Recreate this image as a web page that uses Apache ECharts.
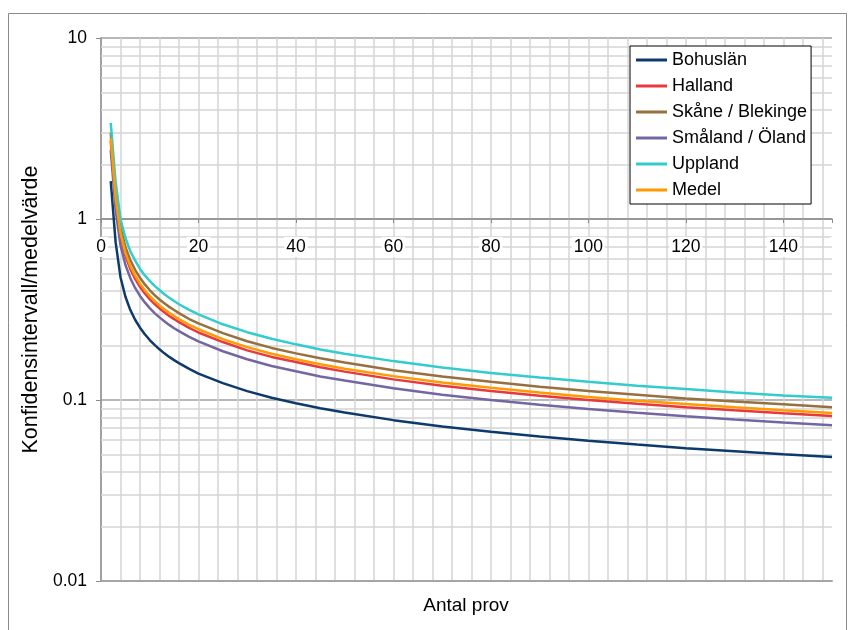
<!DOCTYPE html>
<html>
<head>
<meta charset="utf-8">
<script src="https://cdn.jsdelivr.net/npm/echarts@6/dist/echarts.min.js"></script>
<style>
html, body { margin: 0; padding: 0; background: #fff; }
#chart { width: 848px; height: 630px; }
</style>
</head>
<body>
<div id="chart"></div>
<script>
// antal prov (x)
var antalProv = [2, 3, 4, 5, 6, 7, 8, 9, 10, 11, 12, 13, 14, 15, 16, 18, 20, 25, 30, 35, 40, 45, 50, 60, 70, 80, 90, 100, 110, 120, 130, 140, 150];

var bohuslan = [1.62, 0.745, 0.477, 0.373, 0.315, 0.2775, 0.251, 0.231, 0.2145, 0.2015, 0.1905, 0.181, 0.173, 0.166, 0.160, 0.149, 0.140, 0.124, 0.112, 0.103, 0.096, 0.090, 0.0852, 0.0774, 0.0714, 0.0668, 0.0628, 0.0595, 0.0567, 0.0542, 0.0521, 0.0501, 0.0484];
var halland = [2.70, 1.25, 0.80, 0.627, 0.530, 0.467, 0.422, 0.388, 0.361, 0.339, 0.321, 0.305, 0.291, 0.280, 0.269, 0.251, 0.236, 0.209, 0.188, 0.173, 0.162, 0.1515, 0.1435, 0.130, 0.120, 0.112, 0.1057, 0.100, 0.0954, 0.0913, 0.0877, 0.0844, 0.0815];
var skane = [3.00, 1.41, 0.90, 0.70, 0.594, 0.524, 0.473, 0.435, 0.405, 0.380, 0.359, 0.342, 0.327, 0.314, 0.302, 0.281, 0.265, 0.234, 0.211, 0.194, 0.181, 0.170, 0.161, 0.146, 0.135, 0.126, 0.1185, 0.112, 0.107, 0.102, 0.098, 0.0946, 0.0913];
var smaland = [2.40, 1.12, 0.716, 0.559, 0.4725, 0.416, 0.376, 0.346, 0.322, 0.302, 0.286, 0.272, 0.260, 0.249, 0.240, 0.224, 0.211, 0.186, 0.168, 0.154, 0.144, 0.135, 0.128, 0.116, 0.107, 0.100, 0.0942, 0.0893, 0.0851, 0.0814, 0.0781, 0.0752, 0.0726];
var uppland = [3.40, 1.60, 1.00, 0.79, 0.665, 0.59, 0.53, 0.488, 0.455, 0.427, 0.405, 0.384, 0.367, 0.352, 0.338, 0.316, 0.297, 0.262, 0.237, 0.218, 0.203, 0.190, 0.180, 0.164, 0.151, 0.141, 0.133, 0.126, 0.120, 0.115, 0.110, 0.106, 0.103];
var medel = [2.80, 1.30, 0.835, 0.652, 0.551, 0.486, 0.439, 0.404, 0.375, 0.353, 0.333, 0.317, 0.303, 0.291, 0.280, 0.261, 0.246, 0.217, 0.196, 0.180, 0.168, 0.1575, 0.149, 0.1355, 0.125, 0.117, 0.110, 0.104, 0.0992, 0.0949, 0.0911, 0.0877, 0.0847];

var seriesNames = ['Bohuslän', 'Halland', 'Skåne / Blekinge', 'Småland / Öland', 'Uppland', 'Medel'];
var seriesValues = [bohuslan, halland, skane, smaland, uppland, medel];
var seriesColors = ['#0d3a6b', '#e8383d', '#96703e', '#7466a3', '#33cccc', '#ff9a00'];

var yLabels = {'0.01': '0.01', '0.1': '0.1', '1': '1', '10': '10'};

var FONT = "'Liberation Sans', Arial, sans-serif";

function zip(xs, ys) {
    var out = [];
    for (var i = 0; i < xs.length; i++) out.push([xs[i], ys[i]]);
    return out;
}

// minor horizontal grid lines 2..9 in every decade
var minorLines = [];
[0.01, 0.1, 1].forEach(function (d) {
    for (var k = 2; k <= 9; k++) minorLines.push({yAxis: +(k * d).toPrecision(3)});
});

var myChart = echarts.init(document.getElementById('chart'));

var series = [{
    type: 'line',
    data: [],
    silent: true,
    markLine: {
        silent: true,
        z: 1,
        symbol: ['none', 'none'],
        label: {show: false},
        animation: false,
        lineStyle: {color: '#d4d4d4', width: 1.5, type: 'solid'},
        data: minorLines
    }
}];
for (var i = 0; i < seriesNames.length; i++) {
    series.push({
        name: seriesNames[i],
        type: 'line',
        xAxisIndex: 0,
        data: zip(antalProv, seriesValues[i]),
        showSymbol: false,
        symbol: 'none',
        lineStyle: {width: 2.5, color: seriesColors[i]},
        itemStyle: {color: seriesColors[i]},
        z: 3
    });
}

var option = {
    animation: false,
    grid: {left: 101, top: 38, width: 731, height: 543},
    legend: {
        data: seriesNames,
        orient: 'vertical',
        left: 630,
        top: 46,
        padding: [5, 4, 5, 6],
        itemGap: 8,
        itemWidth: 31,
        itemHeight: 3,
        icon: 'rect',
        backgroundColor: '#fff',
        borderColor: '#000',
        borderWidth: 1,
        textStyle: {fontFamily: FONT, fontSize: 18, color: '#000'}
    },
    xAxis: [{
        type: 'value',
        min: 0,
        max: 150,
        interval: 4,
        position: 'bottom',
        axisLine: {show: true, lineStyle: {color: '#a6a6a6', width: 2}},
        axisTick: {show: false},
        axisLabel: {show: false},
        splitLine: {show: true, showMaxLine: false, lineStyle: {color: '#d4d4d4', width: 1.5}}
    }, {
        type: 'value',
        min: 0,
        max: 150,
        interval: 20,
        position: 'bottom',
        offset: -362,
        z: 2,
        axisLine: {show: true, lineStyle: {color: '#8c8c8c', width: 1.5}},
        axisTick: {show: true, length: 4, lineStyle: {color: '#8c8c8c'}},
        axisLabel: {
            margin: 18,
            fontFamily: FONT,
            fontSize: 17.5,
            color: '#000',
            backgroundColor: '#fff',
            padding: [1, 2, 1, 2],
            formatter: function (v) { return v % 20 === 0 ? String(v) : ''; }
        },
        splitLine: {show: false}
    }],
    yAxis: {
        type: 'log',
        logBase: 10,
        min: 0.01,
        max: 10,
        name: 'Konfidensintervall/medelvärde',
        nameLocation: 'middle',
        nameGap: 57,
        nameTextStyle: {fontFamily: FONT, fontSize: 21.5, color: '#000'},
        axisLine: {show: true, lineStyle: {color: '#8c8c8c', width: 1.5}},
        axisTick: {show: true, length: 5, lineStyle: {color: '#8c8c8c'}},
        axisLabel: {
            margin: 14,
            fontFamily: FONT,
            fontSize: 17.5,
            color: '#000',
            formatter: function (v) {
                var k = String(+v.toPrecision(3));
                return yLabels[k] || k;
            }
        },
        splitLine: {show: true, lineStyle: {color: '#a0a0a0', width: 1.5}}
    },
    graphic: [{
        type: 'rect',
        silent: true,
        z: -10,
        shape: {x: 8.5, y: 13.5, width: 838, height: 640},
        style: {fill: 'none', stroke: '#8a8a8a', lineWidth: 1}
    }, {
        type: 'text',
        x: 466,
        y: 606,
        style: {
            text: 'Antal prov',
            fontFamily: FONT,
            fontSize: 19,
            fill: '#000',
            textAlign: 'center',
            textVerticalAlign: 'middle'
        }
    }],
    series: series
};

myChart.setOption(option);
</script>
</body>
</html>
